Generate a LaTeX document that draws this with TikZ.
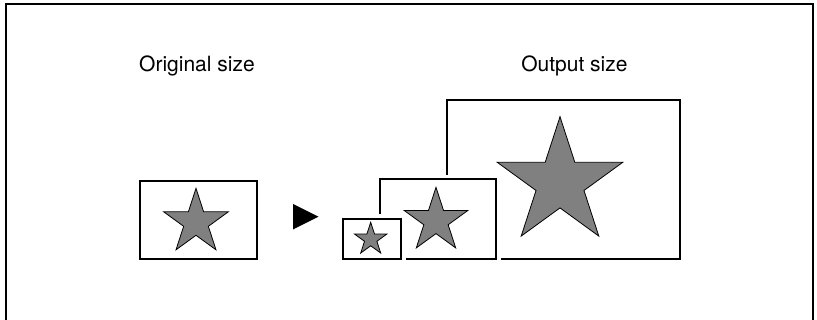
\documentclass[tikz,border=0pt]{standalone}
\usepackage{fontspec}
\setmainfont{TeX Gyre Heros}
\usetikzlibrary{shapes.geometric}
\begin{document}
\begin{tikzpicture}[x=0.75pt,y=-0.75pt,
  frameline/.style={line width=1.5pt,line cap=rect},
  sizebox/.style={rectangle,draw=black,fill=white,line width=1.5pt,inner sep=0pt},
  halo/.style={rectangle,draw=white,fill=white,line width=7pt,inner sep=0pt},
  starshape/.style={star,star points=5,star point ratio=2.618,fill=gray!100!white,fill=black!50,draw=black,line width=0.6pt,inner sep=0pt},
  label/.style={anchor=base,font=\fontsize{15.75pt}{18pt}\selectfont}]
\useasboundingbox (0,0) rectangle (817,320);
\fill[white] (0,0) rectangle (817,320);
% outer frame (open at the bottom)
\coordinate (fbl) at (6,330);
\coordinate (ftl) at (6,4.2);
\coordinate (ftr) at (813,4.2);
\coordinate (fbr) at (813,330);
\draw[frameline] (fbl) -- (ftl) -- (ftr) -- (fbr);
% labels
\node[label] (lorig) at (197,71.7) {Original size};
\node[label] (lout) at (574.4,71.7) {Output size};
% original
\node[sizebox,minimum width=117*0.75pt,minimum height=78*0.75pt] (orig) at (198,220.5) {};
\node[starshape,minimum size=68*0.75pt] (sorig) at (196,222.3) {};
% arrow symbol
\coordinate (a1) at (293,204);
\coordinate (a2) at (318.5,216.7);
\coordinate (a3) at (293,229.5);
\fill[black] (a1) -- (a2) -- (a3) -- cycle;
% large output
\node[sizebox,minimum width=233*0.75pt,minimum height=159*0.75pt] (large) at (563.5,179.5) {};
\node[starshape,minimum size=132*0.75pt] (slarge) at (560,182.7) {};
% medium output
\node[halo,minimum width=116*0.75pt,minimum height=79.7*0.75pt] (mediumhalo) at (438,219.15) {};
\node[sizebox,minimum width=116*0.75pt,minimum height=79.7*0.75pt] (medium) at (438,219.15) {};
\node[starshape,minimum size=67*0.75pt] (smedium) at (436,220.8) {};
% small output
\node[halo,minimum width=58.5*0.75pt,minimum height=40*0.75pt] (smallhalo) at (371.75,239) {};
\node[sizebox,minimum width=58.5*0.75pt,minimum height=40*0.75pt] (small) at (371.75,239) {};
\node[starshape,minimum size=34*0.75pt] (ssmall) at (370.7,239.3) {};
\end{tikzpicture}
\end{document}
